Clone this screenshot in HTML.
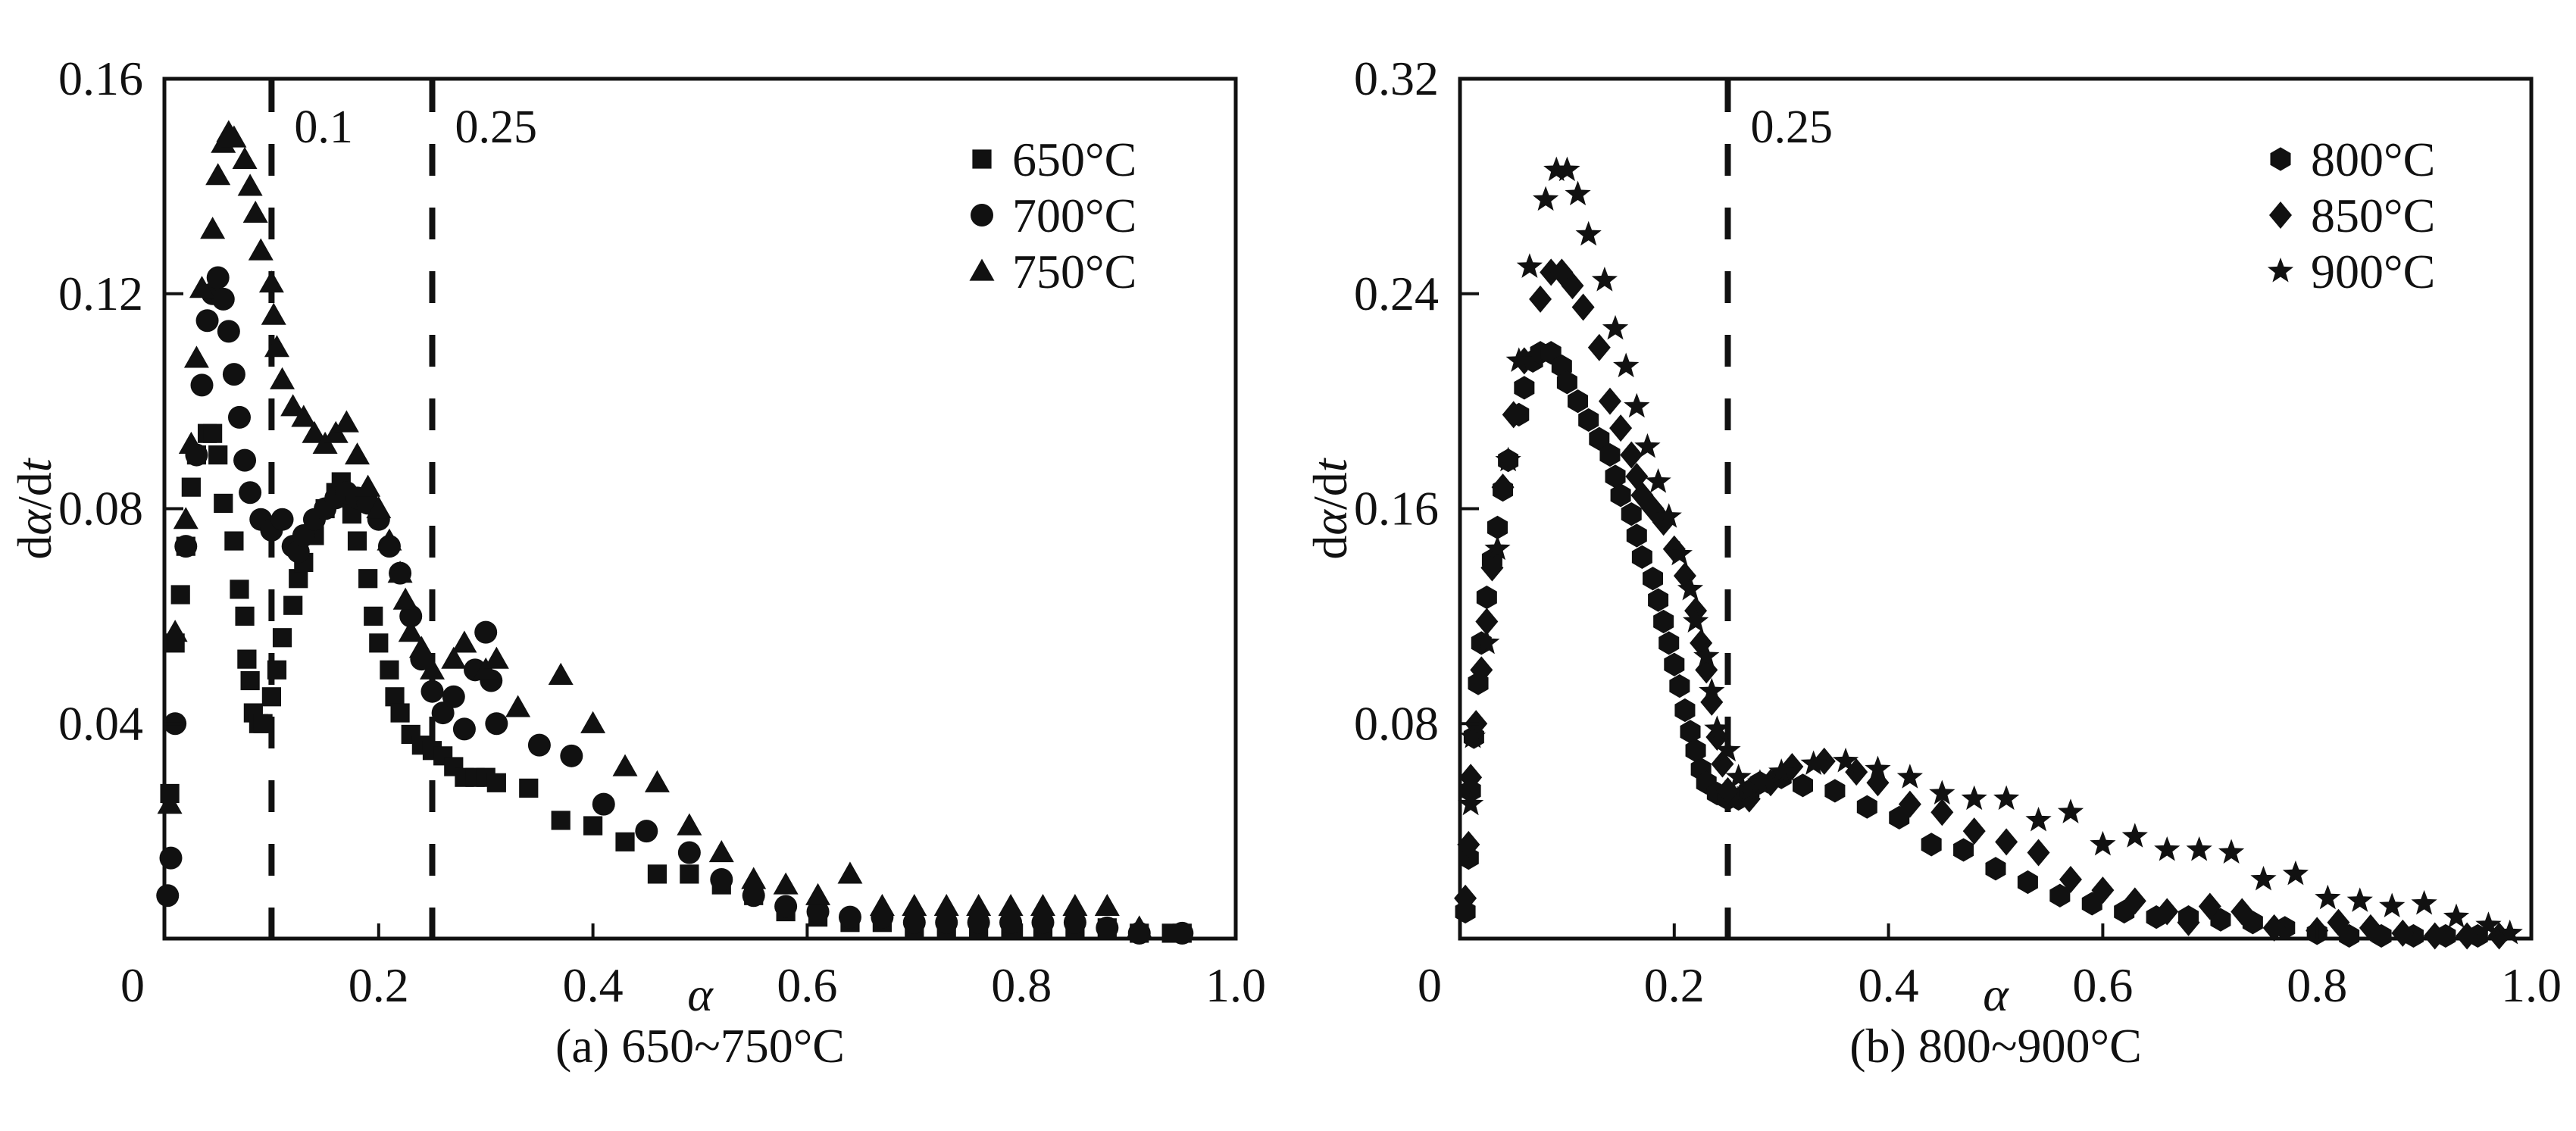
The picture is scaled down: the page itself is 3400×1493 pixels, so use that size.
<!DOCTYPE html>
<html><head><meta charset="utf-8"><style>
html,body{margin:0;padding:0;background:#fff;}
svg{display:block;}
svg text{font-family:"Liberation Serif","DejaVu Serif",serif;}
</style></head><body>
<svg id="chart" width="3400" height="1493" viewBox="0 0 3400 1493" xmlns="http://www.w3.org/2000/svg" font-family="Liberation Serif, DejaVu Serif, serif">
<g id="panelA"></g>
<g id="panelB"></g>
</svg>
<script>
// ---- Panel (a) data ----
const a650x=[0.005,0.01,0.015,0.02,0.025,0.03,0.04,0.045,0.05,0.055,0.065,0.07,0.075,0.077,0.08,0.083,0.088,0.092,0.1,0.105,0.11,0.12,0.125,0.13,0.14,0.15,0.16,0.165,0.17,0.175,0.18,0.19,0.195,0.2,0.21,0.215,0.22,0.23,0.24,0.25,0.26,0.27,0.28,0.29,0.3,0.31,0.34,0.37,0.4,0.43,0.46,0.49,0.52,0.55,0.58,0.61,0.64,0.67,0.7,0.73,0.76,0.79,0.82,0.85,0.88,0.91,0.94,0.95];
const a650y=[0.027,0.055,0.064,0.073,0.084,0.09,0.094,0.094,0.09,0.081,0.074,0.065,0.06,0.052,0.048,0.042,0.04,0.04,0.045,0.05,0.056,0.062,0.067,0.07,0.075,0.08,0.083,0.085,0.082,0.079,0.074,0.067,0.06,0.055,0.05,0.045,0.042,0.038,0.036,0.035,0.034,0.032,0.03,0.03,0.03,0.029,0.028,0.022,0.021,0.018,0.012,0.012,0.01,0.008,0.005,0.004,0.003,0.003,0.002,0.002,0.002,0.002,0.002,0.002,0.002,0.001,0.001,0.001];
const a700x=[0.003,0.006,0.01,0.02,0.03,0.035,0.04,0.045,0.05,0.055,0.06,0.065,0.07,0.075,0.08,0.09,0.1,0.11,0.12,0.125,0.13,0.14,0.15,0.16,0.17,0.18,0.19,0.2,0.21,0.22,0.23,0.24,0.25,0.26,0.27,0.28,0.29,0.3,0.305,0.31,0.35,0.38,0.41,0.45,0.49,0.52,0.55,0.58,0.61,0.64,0.67,0.7,0.73,0.76,0.79,0.82,0.85,0.88,0.91,0.95];
const a700y=[0.008,0.015,0.04,0.073,0.09,0.103,0.115,0.12,0.123,0.119,0.113,0.105,0.097,0.089,0.083,0.078,0.076,0.078,0.073,0.072,0.075,0.078,0.08,0.082,0.083,0.082,0.081,0.078,0.073,0.068,0.06,0.052,0.046,0.042,0.045,0.039,0.05,0.057,0.048,0.04,0.036,0.034,0.025,0.02,0.016,0.011,0.008,0.006,0.005,0.004,0.004,0.003,0.003,0.003,0.003,0.003,0.003,0.002,0.001,0.001];
const a750x=[0.005,0.01,0.02,0.025,0.03,0.035,0.045,0.05,0.055,0.06,0.065,0.075,0.08,0.085,0.09,0.1,0.102,0.105,0.11,0.12,0.13,0.14,0.15,0.16,0.17,0.18,0.19,0.2,0.21,0.22,0.225,0.23,0.24,0.25,0.27,0.28,0.3,0.31,0.33,0.37,0.4,0.43,0.46,0.49,0.52,0.55,0.58,0.61,0.64,0.67,0.7,0.73,0.76,0.79,0.82,0.85,0.88,0.91];
const a750y=[0.025,0.057,0.078,0.092,0.108,0.121,0.132,0.142,0.148,0.15,0.149,0.145,0.14,0.135,0.128,0.122,0.116,0.11,0.104,0.099,0.097,0.094,0.092,0.094,0.096,0.09,0.084,0.08,0.074,0.068,0.063,0.057,0.054,0.05,0.052,0.055,0.05,0.052,0.043,0.049,0.04,0.032,0.029,0.021,0.016,0.011,0.01,0.008,0.012,0.006,0.006,0.006,0.006,0.006,0.006,0.006,0.006,0.002];
const aYTicks=[0.04,0.08,0.12,0.16];
const aYLabels=["0.04","0.08","0.12","0.16"];
const xTicks=[0,0.2,0.4,0.6,0.8,1.0];
const xLabels=["0","0.2","0.4","0.6","0.8","1.0"];
const aRefLines=[0.1,0.25];
const aRefLabels=["0.1","0.25"];
const aLegend=["650°C","700°C","750°C"];

// ---- Panel (b) data ----
const b800x=[0.005,0.008,0.01,0.013,0.017,0.02,0.025,0.03,0.035,0.04,0.045,0.055,0.06,0.068,0.075,0.085,0.095,0.1,0.11,0.12,0.13,0.14,0.145,0.15,0.16,0.165,0.17,0.18,0.185,0.19,0.195,0.2,0.205,0.21,0.215,0.22,0.225,0.23,0.24,0.25,0.26,0.27,0.28,0.3,0.32,0.35,0.38,0.41,0.44,0.47,0.5,0.53,0.56,0.59,0.62,0.65,0.68,0.71,0.74,0.77,0.8,0.83,0.86,0.89,0.92,0.95];
const b800y=[0.01,0.03,0.055,0.075,0.095,0.11,0.127,0.141,0.153,0.167,0.178,0.195,0.205,0.215,0.218,0.218,0.213,0.207,0.2,0.193,0.186,0.18,0.172,0.165,0.158,0.15,0.142,0.134,0.126,0.118,0.11,0.102,0.094,0.085,0.077,0.07,0.063,0.058,0.054,0.052,0.052,0.055,0.058,0.06,0.057,0.055,0.049,0.045,0.035,0.033,0.026,0.021,0.016,0.013,0.01,0.008,0.008,0.007,0.006,0.004,0.002,0.001,0.001,0.001,0.001,0.001];
const b850x=[0.005,0.008,0.01,0.015,0.02,0.025,0.03,0.04,0.05,0.06,0.075,0.085,0.095,0.105,0.115,0.13,0.14,0.15,0.16,0.165,0.17,0.18,0.19,0.2,0.21,0.22,0.225,0.23,0.235,0.24,0.245,0.25,0.27,0.29,0.31,0.34,0.37,0.39,0.42,0.45,0.48,0.51,0.54,0.57,0.6,0.63,0.66,0.68,0.7,0.73,0.76,0.8,0.82,0.85,0.88,0.91,0.94,0.97];
const b850y=[0.015,0.035,0.06,0.08,0.1,0.118,0.138,0.168,0.195,0.215,0.238,0.248,0.248,0.243,0.235,0.22,0.2,0.19,0.18,0.172,0.165,0.16,0.155,0.145,0.135,0.122,0.11,0.1,0.088,0.075,0.065,0.055,0.052,0.058,0.064,0.066,0.062,0.058,0.05,0.047,0.04,0.036,0.032,0.022,0.018,0.014,0.01,0.006,0.012,0.01,0.004,0.003,0.006,0.004,0.002,0.001,0.001,0.001];
const b900x=[0.01,0.012,0.025,0.035,0.045,0.055,0.065,0.08,0.09,0.1,0.11,0.12,0.135,0.145,0.155,0.165,0.175,0.185,0.195,0.205,0.215,0.22,0.23,0.235,0.24,0.25,0.26,0.27,0.28,0.3,0.33,0.36,0.39,0.42,0.45,0.48,0.51,0.54,0.57,0.6,0.63,0.66,0.69,0.72,0.75,0.78,0.81,0.84,0.87,0.9,0.93,0.96,0.98];
const b900y=[0.05,0.075,0.11,0.145,0.178,0.215,0.25,0.275,0.286,0.286,0.277,0.262,0.245,0.227,0.213,0.198,0.183,0.17,0.157,0.143,0.13,0.118,0.105,0.092,0.078,0.07,0.06,0.055,0.058,0.062,0.065,0.066,0.063,0.06,0.054,0.052,0.052,0.044,0.047,0.035,0.038,0.033,0.033,0.032,0.022,0.024,0.015,0.014,0.012,0.013,0.008,0.005,0.002];
const bYTicks=[0.08,0.16,0.24,0.32];
const bYLabels=["0.08","0.16","0.24","0.32"];
const bRefLines=[0.25];
const bRefLabels=["0.25"];
const bLegend=["800°C","850°C","900°C"];

const NS="http://www.w3.org/2000/svg";
const FF="Liberation Serif, DejaVu Serif, serif";
function mk(tag,attrs,parent){const e=document.createElementNS(NS,tag);for(const k in attrs)e.setAttribute(k,attrs[k]);if(tag==="text")e.setAttribute("font-family",FF);parent.appendChild(e);return e;}

function marker(g,type,cx,cy,s){
  let e;
  if(type==="square"){e=mk("rect",{x:cx-s*0.42,y:cy-s*0.42,width:s*0.84,height:s*0.84,fill:"#111"},g);}
  else if(type==="circle"){e=mk("circle",{cx:cx,cy:cy,r:s*0.5,fill:"#111"},g);}
  else if(type==="triangle"){e=mk("polygon",{points:`${cx},${cy-s*0.55} ${cx+s*0.55},${cy+s*0.42} ${cx-s*0.55},${cy+s*0.42}`,fill:"#111"},g);}
  else if(type==="hexagon"){let p=[];for(let i=0;i<6;i++){const a=Math.PI/3*i+Math.PI/6;p.push((cx+s*0.52*Math.cos(a))+","+(cy+s*0.52*Math.sin(a)));}e=mk("polygon",{points:p.join(" "),fill:"#111"},g);}
  else if(type==="diamond"){e=mk("polygon",{points:`${cx},${cy-s*0.6} ${cx+s*0.5},${cy} ${cx},${cy+s*0.6} ${cx-s*0.5},${cy}`,fill:"#111"},g);}
  else {let p=[];for(let i=0;i<10;i++){const r=i%2?s*0.25:s*0.6;const a=-Math.PI/2+Math.PI/5*i;p.push((cx+r*Math.cos(a))+","+(cy+r*Math.sin(a)));}e=mk("polygon",{points:p.join(" "),fill:"#111"},g);}
  return e;
}

function panel(g,L,R,ymax,yTicks,yLabels,refs,refLabels,series,legend,legX,caption,xt){
  const T=104,B=1239;
  const sx=v=>L+v*(R-L), sy=v=>B-v/ymax*(B-T);
  const pg=mk("g",{},g);
  refs.forEach((r,i)=>{
    const ln=mk("line",{x1:sx(r),x2:sx(r),y1:T+2,y2:B,stroke:"#111","stroke-width":8,"stroke-dasharray":"42 42"},pg);
    
    
    const t=mk("text",{x:sx(r)+30,y:188,"font-size":62,fill:"#111"},pg);t.textContent=refLabels[i];
    
    
  });
  series.forEach((s,si)=>{
    const sg=mk("g",{},pg);
    
    
    s.x.forEach((xv,i)=>{const m=marker(sg,s.type,sx(xv),sy(s.y[i]),30);
      
      });
  });
  const fr=mk("rect",{x:L,y:T,width:R-L,height:B-T,fill:"none",stroke:"#111","stroke-width":5},pg);
  
  
  yTicks.forEach((v,i)=>{
    mk("line",{x1:L,x2:L+25,y1:sy(v),y2:sy(v),stroke:"#111","stroke-width":4},pg);
    const t=mk("text",{x:L-28,y:sy(v)+21,"font-size":64,"text-anchor":"end",fill:"#111"},pg);t.textContent=yLabels[i];
    
    
  });
  xTicks.forEach((v,i)=>{
    if(i>0&&i<xTicks.length-1) mk("line",{x1:sx(v),x2:sx(v),y1:B,y2:B-20,stroke:"#111","stroke-width":4},pg);
    const xx=i===0?L-xt:sx(v);
    const t=mk("text",{x:xx,y:1322,"font-size":64,"text-anchor":"middle",fill:"#111"},pg);t.textContent=xLabels[i];
    
    
  });
  const yt=mk("text",{x:0,y:0,"font-size":64,"text-anchor":"middle",fill:"#111",transform:`translate(${L-150},672) rotate(-90)`},pg);
  yt.innerHTML='d<tspan font-style="italic">α</tspan>/d<tspan font-style="italic">t</tspan>';
  
  
  const xtl=mk("text",{x:(L+R)/2,y:1334,"font-size":64,"text-anchor":"middle","font-style":"italic",fill:"#111"},pg);xtl.textContent="α";
  
  
  const cp=mk("text",{x:(L+R)/2,y:1402,"font-size":64,"text-anchor":"middle",fill:"#111"},pg);cp.textContent=caption;
  
  
  const lg=mk("g",{},pg);
  
  
  legend.forEach((lbl,i)=>{
    const y=210+i*74;
    const e=mk("g",{},lg);
    
    
    marker(e,series[i].type,legX,y,30);
    const t=mk("text",{x:legX+40,y:y+22,"font-size":64,fill:"#111"},e);t.textContent=lbl;
  });
}

panel(document.getElementById("panelA"),217,1631,0.16,aYTicks,aYLabels,aRefLines,aRefLabels,
  [{x:a650x,y:a650y,type:"square"},{x:a700x,y:a700y,type:"circle"},{x:a750x,y:a750y,type:"triangle"}],
  aLegend,1296,"(a) 650~750°C",42);
panel(document.getElementById("panelB"),1927,3341,0.32,bYTicks,bYLabels,bRefLines,bRefLabels,
  [{x:b800x,y:b800y,type:"hexagon"},{x:b850x,y:b850y,type:"diamond"},{x:b900x,y:b900y,type:"star"}],
  bLegend,3010,"(b) 800~900°C",40);
</script>
</body></html>
